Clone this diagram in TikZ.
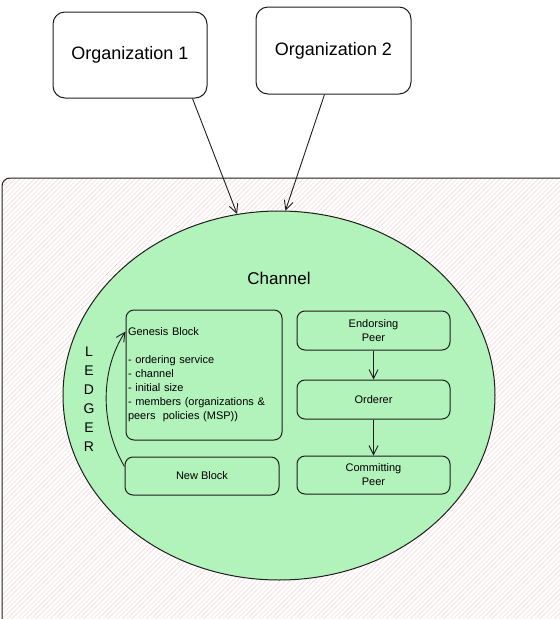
\documentclass[tikz,border=0pt]{standalone}
\usepackage{fontspec}
\setmainfont{Liberation Sans}
\usetikzlibrary{shapes.geometric,arrows.meta}
\definecolor{ink}{HTML}{1E1E1E}
\definecolor{chgreen}{HTML}{B2F2BB}
\definecolor{hatch}{HTML}{F5D3D3}
\tikzset{
  orgbox/.style={draw=ink,line width=1pt,rounded corners=12pt,fill=white,inner sep=0pt,
    font=\fontsize{18}{22}\selectfont},
  blk/.style={draw=ink,line width=1pt,rounded corners=8pt,fill=chgreen,inner sep=2pt,
    font=\fontsize{11}{14}\selectfont,align=center},
  conn/.style={draw=ink,line width=0.9pt,-{Straight Barb[length=9pt,width=9pt]}},
  hatchline/.style={draw=hatch,line width=0.45pt},
}
\begin{document}
\begin{tikzpicture}[x=1pt,y=-1pt]
\useasboundingbox (0,0) rectangle (560,619);
\clip (0,0) rectangle (560,619);
% background hatched panel
\begin{scope}
  \clip[rounded corners=8pt] (2,660) -- (2,178) -- (600,178) -- (600,660) -- cycle;
  \foreach \k in {0,...,230} {
    \draw[hatchline] ({-490+\k*4.8},660) -- ({-490+\k*4.8+490},170);
  }
\end{scope}
\draw[ink,line width=1pt,rounded corners=8pt] (2,660) -- (2,178) -- (600,178);
% organizations
\node[orgbox,minimum width=154pt,minimum height=86pt] (org1) at (130,55) {Organization 1};
\node[orgbox,minimum width=155pt,minimum height=87pt] (org2) at (333.5,50.5) {Organization 2};
% channel
\node[ellipse,draw=ink,line width=1pt,fill=chgreen,minimum width=432pt,minimum height=369pt,inner sep=0pt] (chan) at (279,395.5) {};
\node[font=\fontsize{17}{20}\selectfont] (chlabel) at (279,278) {Channel};
\draw[conn] ([xshift=-15pt]org1.south east) -- (chan.103);
\draw[conn] ([xshift=-9pt]org2.south) -- (chan.88);
% ledger
\node[font=\fontsize{14}{19}\selectfont,align=center] (ledger) at (89,399) {L\\E\\D\\G\\E\\R};
\node[blk,minimum width=156pt,minimum height=130pt,text width=152pt,align=left] (gen) at (204,375)
  {Genesis Block\\[14pt]- ordering service\\- channel\\- initial size\\- members (organizations \&\\peers\ \ policies (MSP))};
\node[blk,minimum width=154pt,minimum height=38pt] (newb) at (202,476) {New Block};
\draw[conn] ([yshift=-10pt]newb.north west) .. controls (100,425) and (100,370) .. ([yshift=-22pt]gen.north west);
% peers
\node[blk,minimum width=153pt,minimum height=39pt] (endo) at (373.5,330.5) {Endorsing\\Peer};
\node[blk,minimum width=153pt,minimum height=39pt] (ord) at (373.5,399.5) {Orderer};
\node[blk,minimum width=153pt,minimum height=38pt] (comm) at (373.5,475) {Committing\\Peer};
\draw[conn] (endo) -- (ord);
\draw[conn] (ord) -- (comm);
\end{tikzpicture}
\end{document}
